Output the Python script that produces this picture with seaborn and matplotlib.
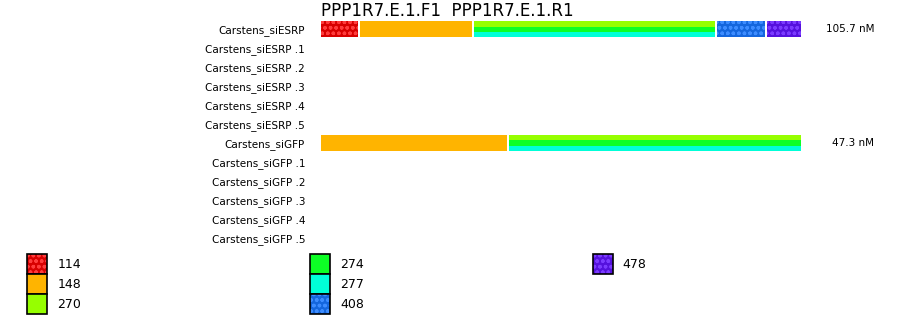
import numpy as np
import matplotlib
matplotlib.use('Agg')
import matplotlib.pyplot as plt
import matplotlib.patches as mpatches
from matplotlib.transforms import blended_transform_factory
import seaborn as sns

# ---------------- data ----------------
title = 'PPP1R7.E.1.F1  PPP1R7.E.1.R1'
lanes = ['Carstens_siESRP', 'Carstens_siESRP .1', 'Carstens_siESRP .2',
         'Carstens_siESRP .3', 'Carstens_siESRP .4', 'Carstens_siESRP .5',
         'Carstens_siGFP', 'Carstens_siGFP .1', 'Carstens_siGFP .2',
         'Carstens_siGFP .3', 'Carstens_siGFP .4', 'Carstens_siGFP .5']
concentrations = ['105.7 nM', '', '', '', '', '', '47.3 nM', '', '', '', '', '']
sizes = ['114', '148', '270', '274', '277', '408', '478']
# percent of each lane's signal per fragment size
esrp_pct = [8.1, 23.7, 16.8, 16.8, 16.8, 10.4, 7.4]
gfp_pct = [0.0, 39.0, 20.3, 20.3, 20.4, 0.0, 0.0]
lane_values = {'Carstens_siESRP': esrp_pct, 'Carstens_siGFP': gfp_pct}
# sizes that co-migrate share one striped segment
segments = [['114'], ['148'], ['270', '274', '277'], ['408'], ['478']]

# ---------------- style ----------------
fill_colors = {'114': '#d80000', '148': '#ffb400', '270': '#96ff00',
               '274': '#0dff25', '277': '#00ffd8', '408': '#1466dd',
               '478': '#5511dd'}
dot_colors = {'114': '#ff3c3c', '408': '#3d8cff', '478': '#7b3bff'}
HATCH = 'ooo'

sns.set_style('white')
plt.rcParams['font.family'] = ['DejaVu Sans']
plt.rcParams['hatch.linewidth'] = 1.0
plt.rcParams['text.color'] = 'black'
plt.rcParams['ytick.color'] = 'black'
plt.rcParams['axes.labelcolor'] = 'black'

W, H = 900, 318
fig = plt.figure(figsize=(W / 100, H / 100), dpi=100)
AX_L, AX_R, AX_T, AX_B = 321, 803, 19.8, 247.2
ax = fig.add_axes([AX_L / W, 1 - AX_B / H, (AX_R - AX_L) / W, (AX_B - AX_T) / H])

GAP = 2 / (AX_R - AX_L) * 100
BAR_W = 0.86


def draw_bar(val, lane, color, width=BAR_W):
    n0 = len(ax.patches)
    sns.barplot(x=[val], y=[lane], order=lanes, orient='h', color=color,
                width=width, saturation=1, linewidth=0, errorbar=None, ax=ax)
    return ax.patches[n0:]


for lane, vals in lane_values.items():
    pct = dict(zip(sizes, vals))
    segs = [(g, sum(pct[s] for s in g)) for g in segments]
    segs = [(g, t) for g, t in segs if t > 0]
    ends = np.cumsum([t for _, t in segs])
    for k in reversed(range(len(segs))):
        g = segs[k][0]
        if k < len(segs) - 1:
            draw_bar(ends[k], lane, 'white', width=BAR_W + 0.04)
        if len(g) == 1:
            patches = draw_bar(ends[k] - GAP, lane, fill_colors[g[0]])
            if g[0] in dot_colors:
                for p in patches:
                    p.set_hatch(HATCH)
                    p.set_edgecolor(dot_colors[g[0]])
                    p.set_linewidth(0)
        else:
            sns.barplot(x=[ends[k] - GAP] * len(g), y=[lane] * len(g), hue=g,
                        hue_order=g, palette=[fill_colors[s] for s in g],
                        order=lanes, orient='h', dodge=True, gap=0,
                        width=BAR_W, saturation=1, linewidth=0,
                        errorbar=None, legend=False, ax=ax)

ax.set_xlim(0, 100)
ax.set_ylim(len(lanes) - 0.5, -0.5)
ax.set_xticks([])
ax.set_xlabel('')
ax.set_ylabel('')
ax.tick_params(axis='y', length=0, pad=11.5, labelsize=7.5, labelcolor='black')
sns.despine(ax=ax, left=True, bottom=True)

trans = blended_transform_factory(ax.transAxes, ax.transData)
for i, c in enumerate(concentrations):
    if c:
        ax.text((874 - AX_L) / (AX_R - AX_L), i, c, transform=trans,
                ha='right', va='center', fontsize=7.5, color='black')

fig.text(AX_L / W, 1 - 15.5 / H, title, fontsize=12, ha='left', va='baseline',
         color='black')

handles = []
labels = []
for s in sizes:
    if s in dot_colors:
        dots = mpatches.Patch(facecolor=fill_colors[s], edgecolor=dot_colors[s],
                              hatch=HATCH, linewidth=0)
        border = mpatches.Patch(facecolor='none', edgecolor='black', linewidth=1.2)
        handles.append((dots, border))
    else:
        handles.append(mpatches.Patch(facecolor=fill_colors[s], edgecolor='black',
                                      linewidth=1.2))
    labels.append(s)
# blank slots so the columns fill 3 / 3 / 1
while len(handles) % 3:
    handles.append(mpatches.Patch(visible=False))
    labels.append('')
leg = fig.legend(handles, labels, loc='upper left',
                 bbox_to_anchor=(27.3 / W, 1 - 254 / H),
                 ncol=3, frameon=False, borderpad=0, borderaxespad=0,
                 handlelength=1.6, handleheight=2.085, handletextpad=0.8,
                 columnspacing=18.3, labelspacing=0, fontsize=9)
for t in leg.get_texts():
    t.set_color('black')

fig.savefig('out.png', dpi=100)
